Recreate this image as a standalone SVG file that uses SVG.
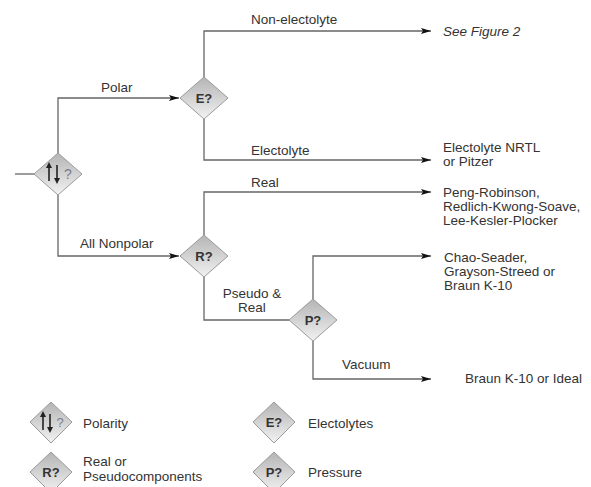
<svg xmlns="http://www.w3.org/2000/svg" width="591" height="487" viewBox="0 0 591 487">
<style>
.t{font-family:"Liberation Sans",Arial,sans-serif;font-size:13.5px;fill:#333}
.i{font-style:italic}
.d{fill:url(#g);stroke:#9a9a9a;stroke-width:1}
.dl{font-family:"Liberation Sans",Arial,sans-serif;font-size:13px;font-weight:bold;fill:#333;text-anchor:middle}
.c{fill:none;stroke:#666;stroke-width:1.3}
.s{stroke:#222;stroke-width:1.6;fill:none}
</style>
<defs>
<linearGradient id="g" x1="0" y1="0" x2="0" y2="1">
<stop offset="0" stop-color="#b4b4b4"/>
<stop offset="1" stop-color="#f2f2f2"/>
</linearGradient>
<marker id="a" markerUnits="userSpaceOnUse" markerWidth="11" markerHeight="8" refX="10" refY="4" orient="auto">
<path d="M0,1 L10,4 L0,7 L2,4 z" fill="#111"/>
</marker>
<marker id="sa" markerUnits="userSpaceOnUse" markerWidth="6" markerHeight="6" refX="3" refY="3" orient="auto">
<path d="M0,0 L6,3 L0,6 z" fill="#222"/>
</marker>
</defs>

<g id="connectors">
<path class="c" d="M15,174 H34"/>
<path class="c" d="M58,153 V98 H179" marker-end="url(#a)"/>
<path class="c" d="M58,195 V256 H179" marker-end="url(#a)"/>
<path class="c" d="M204,77 V31 H431" marker-end="url(#a)"/>
<path class="c" d="M204,119 V160 H431" marker-end="url(#a)"/>
<path class="c" d="M204,235 V192 H431" marker-end="url(#a)"/>
<path class="c" d="M204,277 V320 H289"/>
<path class="c" d="M313,299 V256 H431" marker-end="url(#a)"/>
<path class="c" d="M313,341 V379 H431" marker-end="url(#a)"/>
<text class="t" x="101" y="92">Polar</text>
<text class="t" x="80" y="248">All Nonpolar</text>
<text class="t" x="251" y="24">Non-electolyte</text>
<text class="t" x="251" y="155">Electolyte</text>
<text class="t" x="251" y="187">Real</text>
<text class="t" x="252" y="298" text-anchor="middle">Pseudo &amp;</text>
<text class="t" x="252" y="312" text-anchor="middle">Real</text>
<text class="t" x="342" y="369">Vacuum</text>
</g>

<g id="polarity">
<path class="d" d="M58,153 L82,174 L58,195 L34,174 z"/>
<path class="s" d="M49,181 V165" marker-end="url(#sa)"/>
<path class="s" d="M57,165 V181" marker-end="url(#sa)"/>
<text x="68" y="179" font-family="Liberation Sans,Arial,sans-serif" font-size="14" fill="#7a7f8c" text-anchor="middle">?</text>
</g>

<g id="electrolytes">
<path class="d" d="M204,77 L228,98 L204,119 L180,98 z"/>
<text class="dl" x="204" y="103">E?</text>
</g>

<g id="real">
<path class="d" d="M204,235 L228,256 L204,277 L180,256 z"/>
<text class="dl" x="204" y="261">R?</text>
</g>

<g id="pressure">
<path class="d" d="M313,299 L337,320 L313,341 L289,320 z"/>
<text class="dl" x="313" y="325">P?</text>
</g>

<g id="out-fig2"><text class="t i" x="443" y="36">See Figure 2</text></g>
<g id="out-nrtl">
<text class="t" x="443" y="152">Electolyte NRTL</text>
<text class="t" x="443" y="165.5">or Pitzer</text>
</g>
<g id="out-pr">
<text class="t" x="443" y="197">Peng-Robinson,</text>
<text class="t" x="443" y="211">Redlich-Kwong-Soave,</text>
<text class="t" x="443" y="225">Lee-Kesler-Plocker</text>
</g>
<g id="out-cs">
<text class="t" x="444" y="262">Chao-Seader,</text>
<text class="t" x="444" y="276">Grayson-Streed or</text>
<text class="t" x="444" y="290">Braun K-10</text>
</g>
<g id="out-ideal"><text class="t" x="465" y="383">Braun K-10 or Ideal</text></g>

<g id="legend-polarity">
<path class="d" d="M51,402 L72,422 L51,443 L30,422 z"/>
<path class="s" d="M43,430 V414" marker-end="url(#sa)"/>
<path class="s" d="M50,414 V430" marker-end="url(#sa)"/>
<text x="60" y="427" font-family="Liberation Sans,Arial,sans-serif" font-size="13" fill="#7a7f8c" text-anchor="middle">?</text>
<text class="t" x="83" y="428">Polarity</text>
</g>
<g id="legend-electrolytes">
<path class="d" d="M274,402 L295,422 L274,443 L253,422 z"/>
<text class="dl" x="274" y="427" font-size="12">E?</text>
<text class="t" x="308" y="428">Electolytes</text>
</g>
<g id="legend-real">
<path class="d" d="M51,452 L72,472 L51,493 L30,472 z"/>
<text class="dl" x="51" y="477">R?</text>
<text class="t" x="83" y="466">Real or</text>
<text class="t" x="83" y="481">Pseudocomponents</text>
</g>
<g id="legend-pressure">
<path class="d" d="M274,452 L295,472 L274,493 L253,472 z"/>
<text class="dl" x="274" y="477">P?</text>
<text class="t" x="308" y="477">Pressure</text>
</g>
</svg>
